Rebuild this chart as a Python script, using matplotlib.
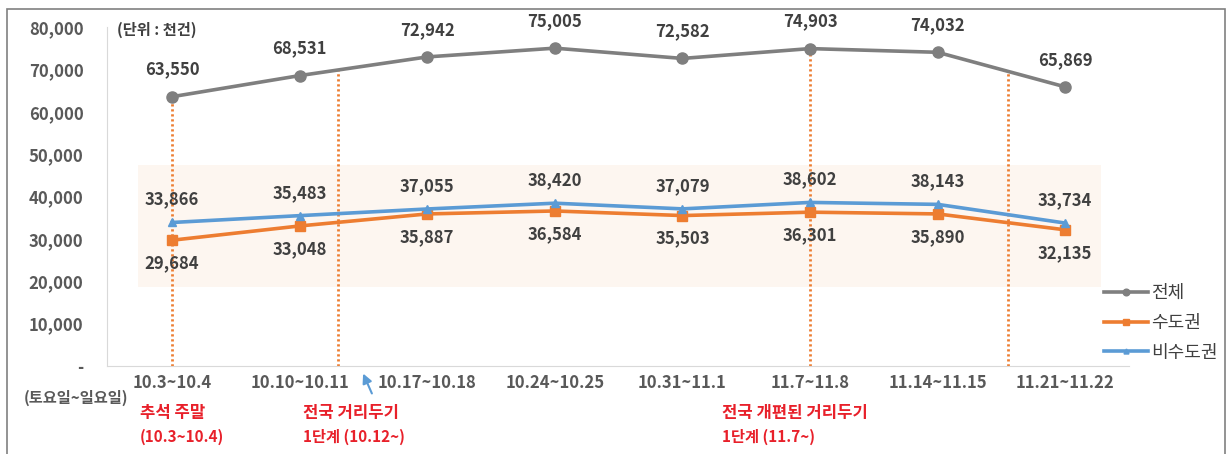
import numpy as np
import matplotlib
matplotlib.use('Agg')
import matplotlib.pyplot as plt
from matplotlib.patches import Rectangle

plt.rcParams['font.family'] = ['Noto Sans CJK KR', 'DejaVu Sans']

# weekend mobility counts (thousand cases)
weeks = ['10.3~10.4', '10.10~10.11', '10.17~10.18', '10.24~10.25',
         '10.31~11.1', '11.7~11.8', '11.14~11.15', '11.21~11.22']
total = [63550, 68531, 72942, 75005, 72582, 74903, 74032, 65869]
capital = [29684, 33048, 35887, 36584, 35503, 36301, 35890, 32135]
non_capital = [33866, 35483, 37055, 38420, 37079, 38602, 38143, 33734]

# positions (in week index) of the policy change markers
event_pos = [0, 1.3, 5, 6.55]

W, H = 1231, 454
fig = plt.figure(figsize=(W / 100, H / 100), dpi=100)


def px(x, y):
    return x / W, 1 - y / H


ax = fig.add_axes([107 / W, 88 / H, 1022 / W, 339 / H])
x = np.arange(len(weeks))

gray = '#7f7f7f'
orange = '#ed7d31'
blue = '#5b9bd5'
txt = '#404040'

ax.add_patch(Rectangle((-0.27, 18600), 7.55, 28800, color='#fdf1e6',
                       alpha=0.6, lw=0, zorder=0))

tops = np.interp(event_pos, x, total)
ax.vlines(event_pos, 0, tops, colors=orange, linestyles=(0, (0.8, 1.0)),
          lw=2, zorder=1)

ax.plot(x, total, color=gray, lw=2.6, marker='o', ms=8, label='전체', zorder=3)
ax.plot(x, capital, color=orange, lw=2.6, marker='s', ms=7.5, label='수도권', zorder=3)
ax.plot(x, non_capital, color=blue, lw=2.6, marker='^', ms=6, label='비수도권', zorder=4)

for i in x:
    ax.annotate(f'{total[i]:,}', (i, total[i]), xytext=(0, 13),
                textcoords='offset points', ha='center', va='bottom',
                fontsize=12, fontweight='bold', color=txt)
    ax.annotate(f'{non_capital[i]:,}', (i, non_capital[i]), xytext=(0, 10),
                textcoords='offset points', ha='center', va='bottom',
                fontsize=12, fontweight='bold', color=txt)
    ax.annotate(f'{capital[i]:,}', (i, capital[i]), xytext=(0, -10),
                textcoords='offset points', ha='center', va='top',
                fontsize=12, fontweight='bold', color=txt)

ax.set_xlim(-0.51, 7.5)
ax.set_ylim(0, 80000)
ax.set_xticks(x)
ax.set_xticklabels(weeks, fontsize=12, fontweight='bold', color='#595959')
yt = np.arange(0, 80001, 10000)
ax.set_yticks(yt)
ax.set_yticklabels(['-'] + [f'{v:,}' for v in yt[1:]], fontsize=12,
                   fontweight='bold', color='#595959')
ax.tick_params(axis='both', length=0)
ax.tick_params(axis='y', pad=17)
ax.tick_params(axis='x', pad=6)
for s in ['top', 'right']:
    ax.spines[s].set_visible(False)
for s in ['left', 'bottom']:
    ax.spines[s].set_color('#d9d9d9')

fig.legend(loc='upper left', bbox_to_anchor=px(1088, 268), frameon=False,
           fontsize=13, handlelength=2.4, handletextpad=0.2, labelspacing=0.65,
           markerscale=0.6, labelcolor='#404040')

fig.text(*px(117, 30), '(단위 : 천건)', fontsize=11, fontweight='bold',
         color=txt, va='center')
fig.text(*px(24, 398), '(토요일~일요일)', fontsize=11, fontweight='bold',
         color='#595959', va='center')

red = '#e8202a'
notes = [(140, '추석 주말', '(10.3~10.4)'),
         (303, '전국 거리두기', '1단계 (10.12~)'),
         (722, '전국 개편된 거리두기', '1단계 (11.7~)')]
for nx, line1, line2 in notes:
    fig.text(*px(nx, 413), line1, fontsize=12, fontweight='bold', color=red,
             va='center')
    fig.text(*px(nx, 437), line2, fontsize=11, fontweight='bold', color=red,
             va='center')

ax.annotate('', xy=px(362, 371), xytext=px(373, 396),
            xycoords='figure fraction', textcoords='figure fraction',
            arrowprops=dict(arrowstyle='-|>', color=blue, lw=1.5,
                            mutation_scale=14))

fig.add_artist(Rectangle(px(7, 470), 1218 / W, 461 / H, fill=False,
                         ec='#808080', lw=1.2, transform=fig.transFigure))

fig.savefig('out.png', dpi=100)
